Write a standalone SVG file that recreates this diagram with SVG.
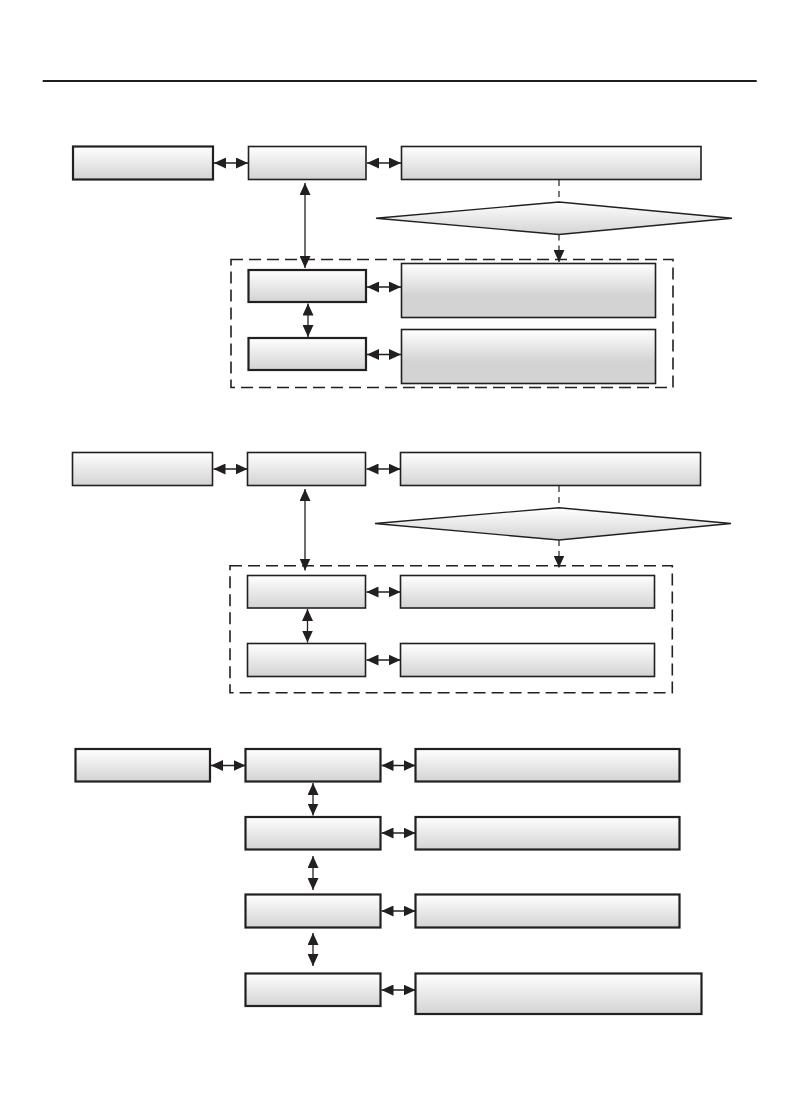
<svg xmlns="http://www.w3.org/2000/svg" width="799" height="1097" viewBox="0 0 799 1097">
<defs>
<linearGradient id="g" x1="0" y1="0" x2="0" y2="1">
<stop offset="0" stop-color="#ffffff"/>
<stop offset="1" stop-color="#d3d3d3"/>
</linearGradient>
<linearGradient id="gt" x1="0" y1="0" x2="0" y2="1">
<stop offset="0" stop-color="#ffffff"/>
<stop offset="0.6" stop-color="#d3d3d3"/>
<stop offset="1" stop-color="#d3d3d3"/>
</linearGradient>
<marker id="ah" viewBox="0 0 12 11" refX="12" refY="5.5" markerWidth="12" markerHeight="11" markerUnits="userSpaceOnUse" orient="auto-start-reverse">
<path d="M0,0 L12,5.5 L0,11 z" fill="#231f20"/>
</marker>
</defs>
<style>
.box{fill:url(#g);stroke:#231f20;stroke-width:1.6}
.tall{fill:url(#gt);stroke:#231f20;stroke-width:1.6}
.thick{stroke-width:2.2}
.dia{fill:url(#g);stroke:#231f20;stroke-width:1.4}
.grp{fill:none;stroke:#231f20;stroke-width:1.6;stroke-dasharray:12 6}
.c{fill:none;stroke:#231f20;stroke-width:1.3;marker-start:url(#ah);marker-end:url(#ah)}
.d{fill:none;stroke:#231f20;stroke-width:1.2;stroke-dasharray:6 5}
.de{fill:none;stroke:#231f20;stroke-width:1.2;stroke-dasharray:6 5;marker-end:url(#ah)}
</style>
<line x1="42.7" y1="81" x2="756.7" y2="81" stroke="#231f20" stroke-width="2"/>

<g id="groups">
<rect id="group1" class="grp" x="231" y="259.5" width="442" height="128"/>
<rect id="group2" class="grp" x="230" y="565.7" width="442.3" height="127"/>
</g>

<g id="s1-a"><rect class="box thick" x="73" y="146.5" width="140" height="33"/></g>
<g id="s1-b"><rect class="box" x="248.5" y="146.5" width="117.5" height="33"/></g>
<g id="s1-c"><rect class="box" x="401.5" y="146.5" width="299.5" height="33"/></g>
<g id="s1-dia"><polygon class="dia" points="376,218.3 559,202 732,218.3 559,234.5"/></g>
<g id="s1-d"><rect class="box thick" x="248.5" y="270" width="117.5" height="32"/></g>
<g id="s1-e"><rect class="tall" x="401.5" y="263.5" width="254" height="54"/></g>
<g id="s1-f"><rect class="box thick" x="248.5" y="338" width="117.5" height="32"/></g>
<g id="s1-g"><rect class="tall" x="401.5" y="329.5" width="254" height="54"/></g>

<g id="s2-a"><rect class="box" x="72.5" y="452.5" width="140" height="33"/></g>
<g id="s2-b"><rect class="box" x="247.5" y="452.5" width="118" height="33"/></g>
<g id="s2-c"><rect class="box" x="400.5" y="452.5" width="300" height="33"/></g>
<g id="s2-dia"><polygon class="dia" points="375,523.5 559,507.7 731,523.5 559,540"/></g>
<g id="s2-d"><rect class="box" x="247.5" y="575.5" width="118" height="32.5"/></g>
<g id="s2-e"><rect class="box" x="400.5" y="575.5" width="254" height="32.5"/></g>
<g id="s2-f"><rect class="box" x="247.5" y="643.5" width="118" height="33"/></g>
<g id="s2-g"><rect class="box" x="400.5" y="643.5" width="254" height="33"/></g>

<g id="s3-a"><rect class="box thick" x="75.5" y="749" width="134.5" height="32.5"/></g>
<g id="s3-b"><rect class="box thick" x="245.5" y="749" width="135" height="32.5"/></g>
<g id="s3-c"><rect class="box thick" x="415.5" y="749" width="264" height="32.5"/></g>
<g id="s3-d"><rect class="box thick" x="245.5" y="817" width="135" height="32.5"/></g>
<g id="s3-e"><rect class="box thick" x="415.5" y="817" width="264" height="32.5"/></g>
<g id="s3-f"><rect class="box thick" x="245.5" y="894.5" width="135" height="33"/></g>
<g id="s3-g"><rect class="box thick" x="415.5" y="894.5" width="264" height="33"/></g>
<g id="s3-h"><rect class="box thick" x="245.5" y="973.5" width="135" height="32.5"/></g>
<g id="s3-i"><rect class="box thick" x="415.5" y="973.5" width="286" height="40.5"/></g>

<g id="connectors">
<line class="c" x1="214" y1="163" x2="248" y2="163"/>
<line class="c" x1="367" y1="163" x2="401" y2="163"/>
<line class="c" x1="305" y1="183" x2="305" y2="268"/>
<line class="c" x1="367" y1="287" x2="401" y2="287"/>
<line class="c" x1="367" y1="354.5" x2="401" y2="354.5"/>
<line class="c" x1="308" y1="303.5" x2="308" y2="337"/>
<line class="d" x1="559" y1="180" x2="559" y2="202"/>
<line class="de" x1="559" y1="234.5" x2="559" y2="262"/>

<line class="c" x1="213.5" y1="469" x2="247.5" y2="469"/>
<line class="c" x1="366.5" y1="469" x2="400.5" y2="469"/>
<line class="c" x1="305" y1="489" x2="305" y2="570.5"/>
<line class="c" x1="366.5" y1="592" x2="400.5" y2="592"/>
<line class="c" x1="366.5" y1="660" x2="400.5" y2="660"/>
<line class="c" x1="307.5" y1="609" x2="307.5" y2="642.5"/>
<line class="d" x1="559" y1="486" x2="559" y2="507.7"/>
<line class="de" x1="559" y1="540" x2="559" y2="567.5"/>

<line class="c" x1="211" y1="765.5" x2="245.5" y2="765.5"/>
<line class="c" x1="381.5" y1="765.5" x2="415.5" y2="765.5"/>
<line class="c" x1="381.5" y1="833" x2="415.5" y2="833"/>
<line class="c" x1="381.5" y1="911" x2="415.5" y2="911"/>
<line class="c" x1="381.5" y1="990" x2="415.5" y2="990"/>
<line class="c" x1="313" y1="783" x2="313" y2="815.5"/>
<line class="c" x1="313" y1="856" x2="313" y2="890"/>
<line class="c" x1="313" y1="933" x2="313" y2="966"/>
</g>
</svg>
